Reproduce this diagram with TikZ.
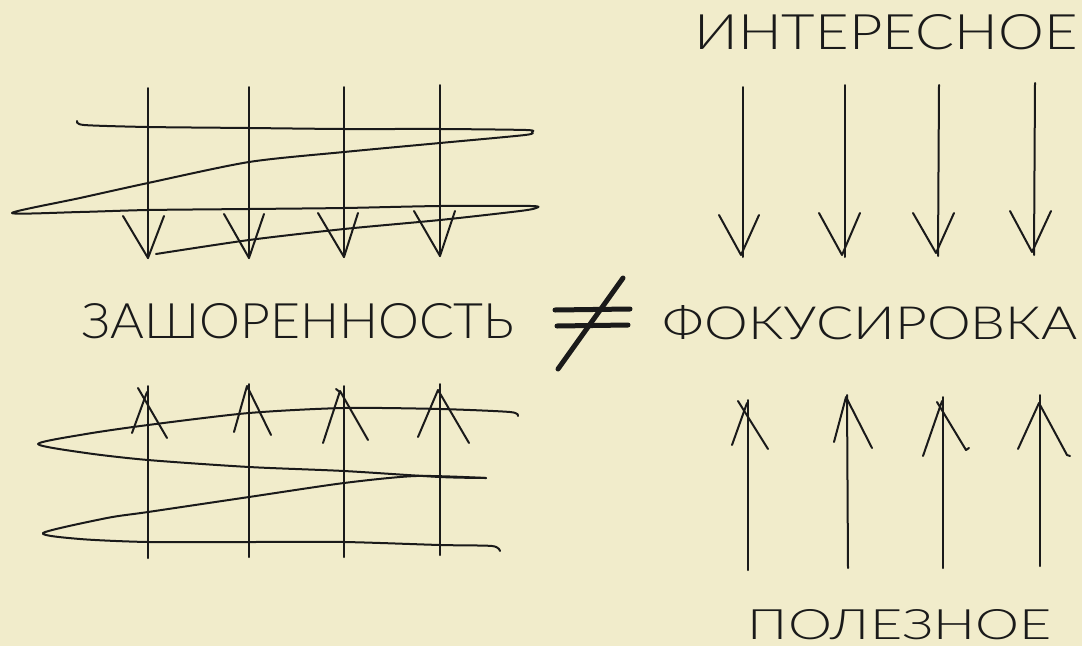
\documentclass[tikz,border=0pt]{standalone}
\usepackage{fontspec}
\usepackage{graphicx}
\newfontfamily\hand{Lato Light}
\definecolor{paper}{HTML}{F1ECCB}
\definecolor{ink}{HTML}{1A1A1A}
\tikzset{
  pen/.style={draw=ink, line width=2pt, line cap=round, line join=round},
  shaft/.style={pen},
  headv/.style={pen},
  thick pen/.style={draw=ink, line width=5pt, line cap=round},
  label/.style={inner sep=0pt, outer sep=0pt, text=ink}
}
\begin{document}
\begin{tikzpicture}[x=1pt,y=-1pt]
\fill[paper] (0,0) rectangle (1082,646);
\useasboundingbox (0,0) rectangle (1082,646);

% ---------- labels ----------
\node[label] (zash) at (298,321) {\resizebox{433pt}{35pt}{\hand ЗАШОРЕННОСТЬ}};
\node[label] (fok) at (870,323) {\resizebox{414pt}{34pt}{\hand ФОКУСИРОВКА}};
\node[label] (inter) at (886,32) {\resizebox{383pt}{35pt}{\hand ИНТЕРЕСНОЕ}};
\node[label] (polez) at (900,625) {\resizebox{304pt}{30pt}{\hand ПОЛЕЗНОЕ}};

% ---------- not equal sign ----------
\draw[thick pen] (555,310) -- (630,309);
\draw[thick pen] (557,326) -- (628,325);
\draw[thick pen] (558,369) -- (623,278);

% ---------- top-left grid ----------
\foreach \i/\xa/\ya/\xb/\yb in {1/148/88/148/258, 2/249/87/249/258, 3/344/87/344/257, 4/440/85/440/256}{
  \coordinate (tl\i a) at (\xa,\ya);
  \coordinate (tl\i b) at (\xb,\yb);
  \draw[shaft] (tl\i a) -- (tl\i b);
}
\draw[headv] (123,216) -- (tl1b) -- (164,216);
\draw[headv] (224,214) -- (tl2b) -- (264,214);
\draw[headv] (318,213) -- (tl3b) -- (358,213);
\draw[headv] (414,211) -- (tl4b) -- (455,211);

\draw[pen] plot[smooth, tension=0.45] coordinates {
  (77,121) (84,125) (148,127) (249,128) (344,129) (440,129) (526,130) (532,132)
  (525,135) (440,143) (344,152) (249,162) (148,183) (80,198) (12,213)
  (80,212) (148,210) (249,209) (344,208) (440,206) (531,206) (536,208)
  (520,211) (440,220) (344,229) (249,240) (156,254)};

% ---------- bottom-left grid ----------
\foreach \i/\xa/\ya/\xb/\yb in {1/148/386/148/558, 2/249/384/249/557, 3/344/386/344/557, 4/440/384/440/555}{
  \coordinate (bl\i a) at (\xa,\ya);
  \coordinate (bl\i b) at (\xb,\yb);
  \draw[shaft] (bl\i b) -- (bl\i a);
}
\draw[headv] (132,433) -- (147,392);
\draw[headv] (138,388) -- (167,438);
\draw[headv] (234,432) -- (247,386) -- (271,435);
\draw[headv] (323,443) -- (340,391) -- (368,440);
\draw[headv] (336,389) -- (341,393);
\draw[headv] (418,437) -- (438,390) -- (469,443);

\draw[pen] plot[smooth, tension=0.45] coordinates {
  (518,416) (510,412) (440,409) (344,408) (249,413) (148,425) (86,434) (38,444)
  (86,453) (148,460) (249,467) (344,471) (440,477) (486,478)};
\draw[pen] plot[smooth, tension=0.45] coordinates {
  (486,478) (416,476) (344,483) (249,497) (148,512) (107,518) (43,533)
  (80,539) (148,542) (249,542) (344,542) (440,545) (492,546) (500,551)};

% ---------- top-right arrows (down) ----------
\foreach \i/\xa/\ya/\xb/\yb in {1/743/87/743/257, 2/845/85/845/257, 3/939/85/938/256, 4/1035/83/1034/255}{
  \coordinate (tr\i a) at (\xa,\ya);
  \coordinate (tr\i b) at (\xb,\yb);
  \draw[shaft] (tr\i a) -- (tr\i b);
}
\draw[headv] (719,215) -- (741,255) -- (759,215);
\draw[headv] (819,213) -- (842,255) -- (860,213);
\draw[headv] (913,213) -- (936,253) -- (954,213);
\draw[headv] (1010,211) -- (1032,252) -- (1051,211);

% ---------- bottom-right arrows (up) ----------
\foreach \i/\xa/\ya/\xb/\yb in {1/748/570/748/400, 2/848/568/847/395, 3/943/568/943/397, 4/1040/566/1040/395}{
  \coordinate (br\i a) at (\xa,\ya);
  \coordinate (br\i b) at (\xb,\yb);
  \draw[shaft] (br\i a) -- (br\i b);
}
\draw[headv] (732,445) -- (747,403);
\draw[headv] (738,401) -- (768,449);
\draw[headv] (834,442) -- (846,397) -- (872,448);
\draw[headv] (923,456) -- (942,401);
\draw[headv] (937,402) -- (966,450) -- (969,448);
\draw[headv] (1018,449) -- (1039,403) -- (1067,455) -- (1070,456);
\end{tikzpicture}
\end{document}
